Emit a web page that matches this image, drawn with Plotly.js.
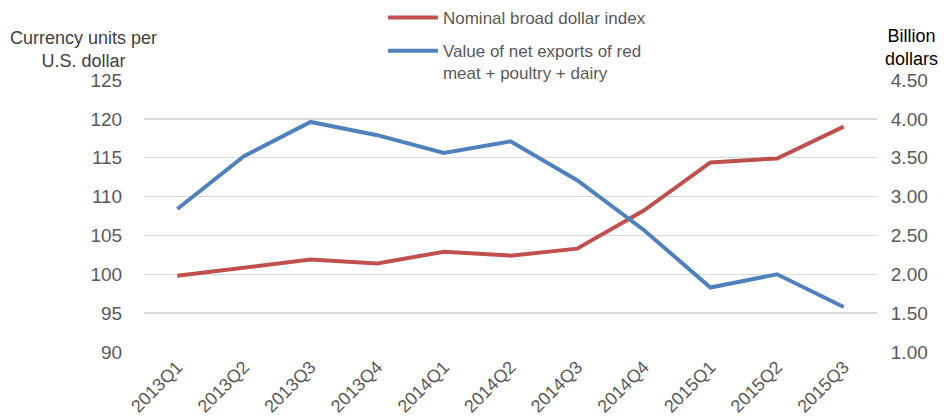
<!DOCTYPE html>
<html>
<head>
<meta charset="utf-8">
<script src="https://cdn.plot.ly/plotly-3.0.1.min.js"></script>
<style>html,body{margin:0;padding:0;background:#fff;}#chart{width:949px;height:419px;}</style>
</head>
<body>
<div id="chart"></div>
<script>
const quarters = ["2013Q1","2013Q2","2013Q3","2013Q4","2014Q1","2014Q2","2014Q3","2014Q4","2015Q1","2015Q2","2015Q3"];
const dollarIndex = [99.8, 100.9, 101.9, 101.4, 102.9, 102.4, 103.3, 108.2, 114.4, 114.9, 119.0];
const netExports = [2.84, 3.52, 3.96, 3.79, 3.56, 3.71, 3.21, 2.57, 1.83, 2.00, 1.58];
const leftTicks = [90, 95, 100, 105, 110, 115, 120, 125];
const rightTicks = [1.0, 1.5, 2.0, 2.5, 3.0, 3.5, 4.0, 4.5];

const fam = "Liberation Sans, Arial, sans-serif";

const traces = [
  {x: quarters, y: dollarIndex, type: "scatter", mode: "lines", name: "Nominal broad dollar index",
   line: {color: "#c0504d", width: 4}, yaxis: "y", legendgroup: "a"},
  {x: quarters, y: netExports, type: "scatter", mode: "lines", name: "Value of net exports of red<br>meat + poultry + dairy",
   line: {color: "#4f81bd", width: 4}, yaxis: "y2", legendgroup: "b"}
];

const layout = {
  width: 949, height: 419,
  margin: {l: 144, r: 72, t: 80, b: 67, autoexpand: false},
  paper_bgcolor: "#fff", plot_bgcolor: "#fff",
  font: {family: fam, color: "#595959", size: 17},
  showlegend: true,
  legend: {xref: "paper", yref: "container", x: 0.326, y: 1.0, xanchor: "left", yanchor: "top", traceorder: "grouped", tracegroupgap: 8,
           valign: "top", itemwidth: 50,
           font: {family: fam, size: 17, color: "#595959"}, bgcolor: "rgba(0,0,0,0)"},
  xaxis: {type: "category", range: [-0.5, 10.5], tickangle: -45, showgrid: false, showline: false, zeroline: false, ticks: "",
          tickfont: {family: fam, size: 18, color: "#595959"}},
  yaxis: {range: [90, 125], tickvals: leftTicks, ticktext: leftTicks.map(String), showgrid: true,
          gridcolor: "#d9d9d9", gridwidth: 1.5, zeroline: false, showline: false, ticks: "outside", ticklen: 17, tickcolor: "rgba(0,0,0,0)",
          tickfont: {family: fam, size: 19, color: "#595959"}},
  yaxis2: {range: [1, 4.5], tickvals: rightTicks, ticktext: rightTicks.map(v => v.toFixed(2)), overlaying: "y", side: "right",
           showgrid: false, zeroline: false, showline: false, ticks: "outside", ticklen: 9, tickcolor: "rgba(0,0,0,0)",
           tickfont: {family: fam, size: 19, color: "#595959"}},
  annotations: [
    {text: "Currency units per<br>U.S. dollar", xref: "paper", yref: "paper", x: -0.186, y: 1.112, xanchor: "left", yanchor: "middle",
     showarrow: false, align: "center", font: {family: fam, size: 18, color: "#404040"}},
    {text: "Billion<br>dollars", xref: "paper", yref: "paper", x: 1.047, y: 1.118, xanchor: "center", yanchor: "middle",
     showarrow: false, align: "center", font: {family: fam, size: 18, color: "#000"}}
  ]
};

Plotly.newPlot("chart", traces, layout, {displayModeBar: false, staticPlot: true});
</script>
</body>
</html>
